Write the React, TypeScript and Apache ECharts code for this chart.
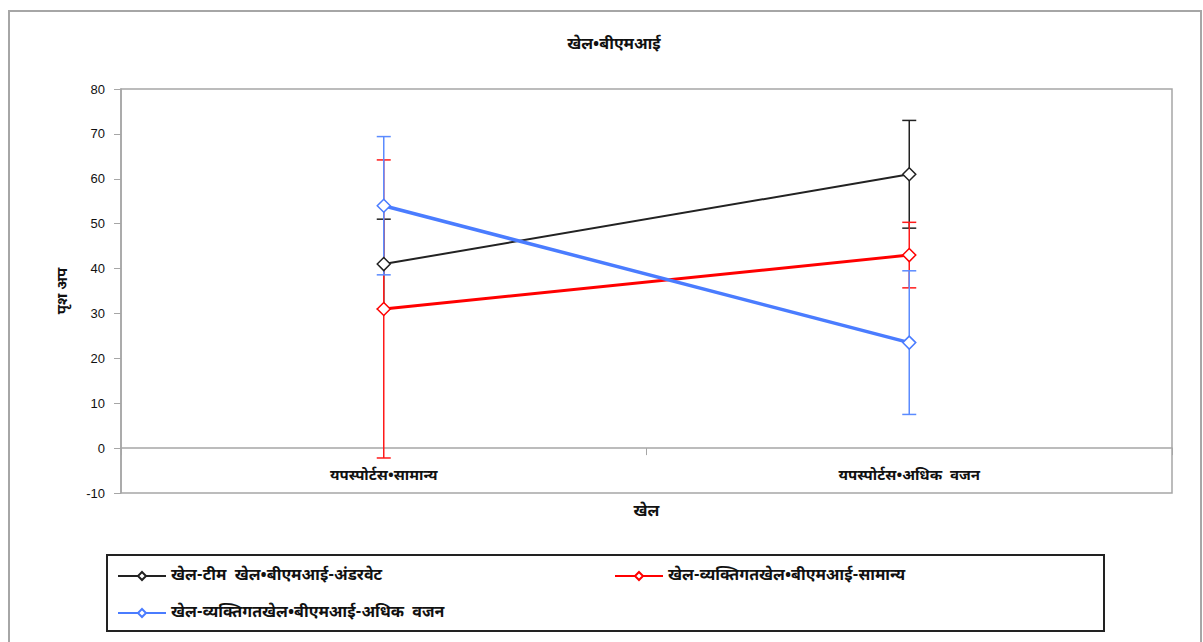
import React, { useEffect, useRef } from "react";
import * as echarts from "echarts";

const titleText = "खेल•बीएमआई";
const categories = ["यपस्पोर्टस•सामान्य", "यपस्पोर्टस•अधिक  वजन"];
const xName = "खेल";
const yName = "पृश अप";
const seriesNames = [
  "खेल-टीम  खेल•बीएमआई-अंडरवेट",
  "खेल-व्यक्तिगतखेल•बीएमआई-सामान्य",
  "खेल-व्यक्तिगतखेल•बीएमआई-अधिक  वजन",
];
const blackMeans = [41, 61];
const blackErr = [10, 12];
const redMeans = [31, 43];
const redErr = [33.2, 7.3];
const blueMeans = [54, 23.5];
const blueErr = [15.4, 16];

const FONT = "'Noto Sans Devanagari', 'Noto Sans', 'Liberation Sans', sans-serif";

function errSeries(name: string, means: number[], errs: number[], color: string, z: number) {
  return {
    type: "custom",
    name: name + "_err",
    z,
    silent: true,
    data: means.map((m, i) => [i, m - errs[i], m + errs[i]]),
    renderItem: (params: any, api: any) => {
      const x = api.value(0);
      const lo = api.coord([x, api.value(1)]);
      const hi = api.coord([x, api.value(2)]);
      const hw = 7;
      const style = { stroke: color, lineWidth: 1.5 };
      return {
        type: "group",
        children: [
          { type: "line", shape: { x1: lo[0], y1: lo[1], x2: hi[0], y2: hi[1] }, style },
          { type: "line", shape: { x1: lo[0] - hw, y1: lo[1], x2: lo[0] + hw, y2: lo[1] }, style },
          { type: "line", shape: { x1: hi[0] - hw, y1: hi[1], x2: hi[0] + hw, y2: hi[1] }, style },
        ],
      };
    },
  };
}

function lineSeries(name: string, means: number[], color: string, width: number, z: number) {
  return {
    type: "line",
    name,
    z,
    data: means,
    symbol: "diamond",
    symbolSize: 13,
    lineStyle: { color, width },
    itemStyle: { color: "#ffffff", borderColor: color, borderWidth: 1.5 },
  };
}

export default function App() {
  const ref = useRef<HTMLDivElement>(null);
  useEffect(() => {
    if (!ref.current) return;
    const chart = echarts.init(ref.current, null, { renderer: "svg" });
    const legendText = { fontFamily: FONT, fontSize: 16, fontWeight: "bold", color: "#111" };
    const legendCommon = {
      itemWidth: 48,
      itemHeight: 10,
      padding: 0,
      textStyle: legendText,
    };
    chart.setOption({
      animation: false,
      backgroundColor: "#ffffff",
      title: {
        text: titleText,
        left: 609,
        top: 32,
        textAlign: "center",
        textStyle: { fontFamily: FONT, fontSize: 16, fontWeight: "bold", color: "#111" },
      },
      graphic: [
        {
          type: "rect",
          shape: { x: 9, y: 11, width: 1192, height: 700 },
          style: { fill: "none", stroke: "#a6a6a6", lineWidth: 2 },
          silent: true,
        },
        {
          type: "rect",
          shape: { x: 107, y: 555, width: 997, height: 76 },
          style: { fill: "none", stroke: "#222", lineWidth: 2 },
          silent: true,
        },
      ],
      legend: [
        { ...legendCommon, data: [seriesNames[0]], left: 117, top: 568 },
        { ...legendCommon, data: [seriesNames[1]], left: 614, top: 568 },
        { ...legendCommon, data: [seriesNames[2]], left: 117, top: 605 },
      ],
      grid: {
        left: 121,
        top: 89,
        right: 31,
        bottom: 149,
        show: true,
        borderColor: "#a6a6a6",
        borderWidth: 1.5,
      },
      xAxis: {
        type: "category",
        data: categories,
        name: xName,
        nameLocation: "middle",
        nameGap: 11,
        nameTextStyle: { fontFamily: FONT, fontSize: 16, fontWeight: "bold", color: "#111" },
        axisLine: { onZero: true, lineStyle: { color: "#a6a6a6", width: 1.5 } },
        axisTick: { show: true, length: 7, lineStyle: { color: "#a6a6a6" } },
        axisLabel: {
          margin: -24,
          fontFamily: FONT,
          fontSize: 15,
          fontWeight: "bold",
          color: "#111",
        },
        splitLine: { show: false },
      },
      yAxis: {
        type: "value",
        min: -10,
        max: 80,
        interval: 10,
        name: yName,
        nameLocation: "middle",
        nameGap: 50,
        nameTextStyle: { fontFamily: FONT, fontSize: 15, fontWeight: "bold", color: "#111" },
        axisLine: { show: true, lineStyle: { color: "#a6a6a6", width: 1.5 } },
        axisTick: { show: true, length: 7, lineStyle: { color: "#a6a6a6" } },
        axisLabel: {
          margin: 16,
          fontFamily: "'Liberation Sans', Arial, sans-serif",
          fontSize: 13,
          color: "#111",
        },
        splitLine: { show: false },
      },
      series: [
        errSeries(seriesNames[0], blackMeans, blackErr, "#222222", 2),
        errSeries(seriesNames[1], redMeans, redErr, "#ff1a1a", 2),
        errSeries(seriesNames[2], blueMeans, blueErr, "#5b8bff", 2),
        lineSeries(seriesNames[0], blackMeans, "#222222", 2, 3),
        lineSeries(seriesNames[1], redMeans, "#ff0000", 3, 4),
        lineSeries(seriesNames[2], blueMeans, "#4a7cff", 3.5, 5),
      ],
    });
    return () => chart.dispose();
  }, []);
  return (
    <div
      ref={ref}
      style={{ position: "absolute", left: 0, top: 0, width: 1203, height: 642 }}
    />
  );
}
